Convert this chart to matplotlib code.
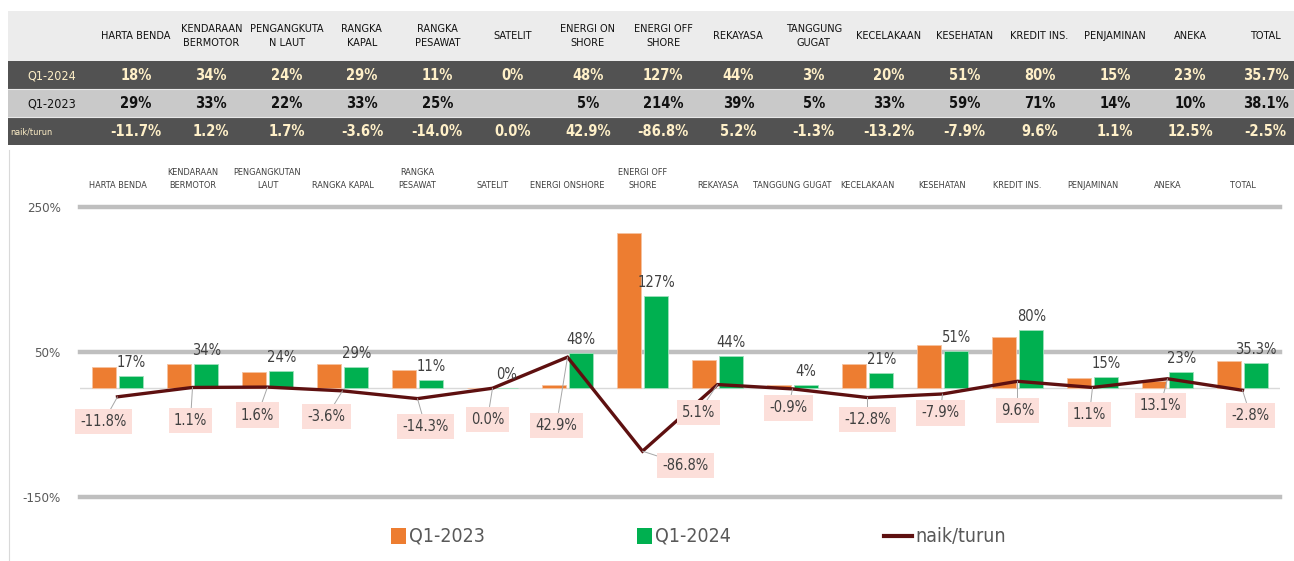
import matplotlib
matplotlib.use("Agg")
import matplotlib.pyplot as plt
from matplotlib import font_manager as fm
from matplotlib.patches import Rectangle
from matplotlib.lines import Line2D
import numpy as np

# ---------------- data ----------------
table_categories = ["HARTA BENDA", "KENDARAAN\nBERMOTOR", "PENGANGKUTA\nN LAUT", "RANGKA\nKAPAL",
                    "RANGKA\nPESAWAT", "SATELIT", "ENERGI ON\nSHORE", "ENERGI OFF\nSHORE", "REKAYASA",
                    "TANGGUNG\nGUGAT", "KECELAKAAN", "KESEHATAN", "KREDIT INS.", "PENJAMINAN", "ANEKA", "TOTAL"]
table_rows = ["Q1-2024", "Q1-2023", "naik/turun"]
table_q1_2024 = ["18%", "34%", "24%", "29%", "11%", "0%", "48%", "127%", "44%", "3%", "20%", "51%",
                 "80%", "15%", "23%", "35.7%"]
table_q1_2023 = ["29%", "33%", "22%", "33%", "25%", "", "5%", "214%", "39%", "5%", "33%", "59%",
                 "71%", "14%", "10%", "38.1%"]
table_change = ["-11.7%", "1.2%", "1.7%", "-3.6%", "-14.0%", "0.0%", "42.9%", "-86.8%", "5.2%", "-1.3%",
                "-13.2%", "-7.9%", "9.6%", "1.1%", "12.5%", "-2.5%"]

chart_categories = ["HARTA BENDA", "KENDARAAN\nBERMOTOR", "PENGANGKUTAN\nLAUT", "RANGKA KAPAL",
                    "RANGKA\nPESAWAT", "SATELIT", "ENERGI ONSHORE", "ENERGI OFF\nSHORE", "REKAYASA",
                    "TANGGUNG GUGAT", "KECELAKAAN", "KESEHATAN", "KREDIT INS.", "PENJAMINAN", "ANEKA", "TOTAL"]
q1_2023 = [29, 33, 22, 33, 25, 0, 5, 214, 39, 5, 33, 59, 71, 14, 10, 38.1]
q1_2024 = [17, 34, 24, 29, 11, 0, 48, 127, 44, 4, 21, 51, 80, 15, 23, 35.3]
naik_turun = [-11.8, 1.1, 1.6, -3.6, -14.3, 0.0, 42.9, -86.8, 5.1, -0.9, -12.8, -7.9, 9.6, 1.1, 13.1, -2.8]
y_ticks = [250, 50, -150]
series_names = ["Q1-2023", "Q1-2024", "naik/turun"]

# label placement (pixel offsets of line labels from their points) - layout only
line_label_offsets = [(-14, 25), (-2, 33), (-10, 28), (-16, 26), (8, 28), (-5, 31), (-11, 68), (43, 14),
                      (-19, 28), (-4, 19), (0, 22), (-2, 19), (0, 29), (-3, 27), (-7, 27), (8, 25)]

# ---------------- style ----------------
names = {f.name for f in fm.fontManager.ttflist}
if "Liberation Sans Narrow" in names:
    FONT = dict(family="Liberation Sans Narrow")
else:
    FONT = dict(family="DejaVu Sans", stretch="condensed")

ORANGE = "#ED7D31"
GREEN = "#00B050"
LINE = "#5E1010"
DARK_ROW = "#525252"
LIGHT_ROW = "#C9C9C9"
HEAD_ROW = "#ECECEC"
CREAM = "#FFF0C8"
TXT = "#404040"
GRID = "#BFBFBF"

W, H = 1294, 561
fig = plt.figure(figsize=(W / 100, H / 100), dpi=100)

# overlay in pixel coordinates (for table, legend, frame)
ov = fig.add_axes([0, 0, 1, 1])
ov.set_xlim(0, W)
ov.set_ylim(H, 0)
ov.axis("off")

# ---------- table ----------
tx0 = 8
col_x = 136 + 75.3 * np.arange(len(table_categories))
row_bounds = [(11, 61, HEAD_ROW), (61, 89, DARK_ROW), (89, 117, LIGHT_ROW), (117, 145, DARK_ROW)]
for (y0, y1, c) in row_bounds:
    ov.add_patch(Rectangle((tx0, y0), W - tx0, y1 - y0, facecolor=c, edgecolor="none"))
ov.plot([tx0, W], [89, 89], color="#E8E8E8", lw=0.8)
ov.plot([tx0, W], [117, 117], color="#E8E8E8", lw=0.8)

for cx, lab in zip(col_x, table_categories):
    ov.text(cx, 36, lab, ha="center", va="center", fontsize=7.8, color="#111111",
            linespacing=1.6, **FONT)

row_data = [table_q1_2024, table_q1_2023, table_change]
row_colors = [CREAM, "#111111", CREAM]
row_cy = [75.5, 103.5, 131.5]
for r, (vals, col, cy) in enumerate(zip(row_data, row_colors, row_cy)):
    for cx, v in zip(col_x, vals):
        ov.text(cx, cy, v, ha="center", va="center", fontsize=10.5, color=col,
                fontweight="bold", **FONT)
ov.text(52, row_cy[0], table_rows[0], ha="center", va="center", fontsize=9, color=CREAM, **FONT)
ov.text(52, row_cy[1], table_rows[1], ha="center", va="center", fontsize=9, color="#111111", **FONT)
ov.text(10, row_cy[2], table_rows[2], ha="left", va="center", fontsize=6.5, color=CREAM, **FONT)

# chart frame left edge
ov.plot([8.5, 8.5], [150, H], color="#D9D9D9", lw=0.8)

# ---------- chart ----------
ax = fig.add_axes([80 / W, 1 - 497 / H, 1200 / W, 290 / H])
ax.patch.set_alpha(0)
x = np.arange(len(chart_categories))
ax.set_xlim(-0.5, len(chart_categories) - 0.5)
ax.set_ylim(y_ticks[-1], y_ticks[0])
for s in ax.spines.values():
    s.set_visible(False)

for yv in y_ticks:
    ax.axhline(yv, color=GRID, lw=3.2, clip_on=False, zorder=0)
ax.axhline(0, color="#D9D9D9", lw=1.0, zorder=0)

bw = 0.313
off = 0.183
ax.bar(x - off, q1_2023, bw, color=ORANGE, edgecolor="#F6C2A0", linewidth=0.6, zorder=2)
ax.bar(x + off, q1_2024, bw, color=GREEN, edgecolor="#9FE0BC", linewidth=0.6, zorder=2)
ax.plot(x, naik_turun, color=LINE, lw=2.4, zorder=3, solid_joinstyle="miter")

ax.set_yticks(y_ticks)
ax.set_yticklabels([f"{v}%" for v in y_ticks], fontsize=9.5, color="#595959", **FONT)
ax.tick_params(axis="y", length=0, pad=14)
ax.xaxis.tick_top()
ax.set_xticks(x)
ax.set_xticklabels(chart_categories, fontsize=6.6, color=TXT, linespacing=1.55, **FONT)
ax.tick_params(axis="x", length=0, pad=12)


def fmt(v):
    return f"{v:.0f}%" if float(v).is_integer() else f"{v:.1f}%"


for xi, v in zip(x, q1_2024):
    ax.annotate(fmt(v), (xi + off, v), xytext=(0, 6), textcoords="offset pixels",
                ha="center", va="bottom", fontsize=10.5, color=TXT, zorder=4, **FONT)

for xi, v, (dx, dy) in zip(x, naik_turun, line_label_offsets):
    ax.annotate(f"{v:.1f}%", (xi, v), xytext=(dx, -dy), textcoords="offset pixels",
                ha="center", va="center", fontsize=10.5, color=TXT, zorder=5,
                bbox=dict(boxstyle="square,pad=0.35", fc="#FCDFDA", ec="none"),
                arrowprops=dict(arrowstyle="-", color="#A6A6A6", lw=0.7, shrinkA=0, shrinkB=0),
                **FONT)

# ---------- legend ----------
leg_y = 536
items = [(391, ORANGE, "patch"), (637, GREEN, "patch"), (884, LINE, "line")]
for (lx, c, kind), name in zip(items, series_names):
    if kind == "patch":
        ov.add_patch(Rectangle((lx, leg_y - 8), 15, 16, facecolor=c, edgecolor="none"))
        tx = lx + 18
    else:
        ov.add_line(Line2D([lx, lx + 28], [leg_y, leg_y], color=c, lw=3))
        tx = lx + 31
    ov.text(tx, leg_y, name, ha="left", va="center", fontsize=14, color="#595959", **FONT)

fig.savefig("out.png", dpi=100)
